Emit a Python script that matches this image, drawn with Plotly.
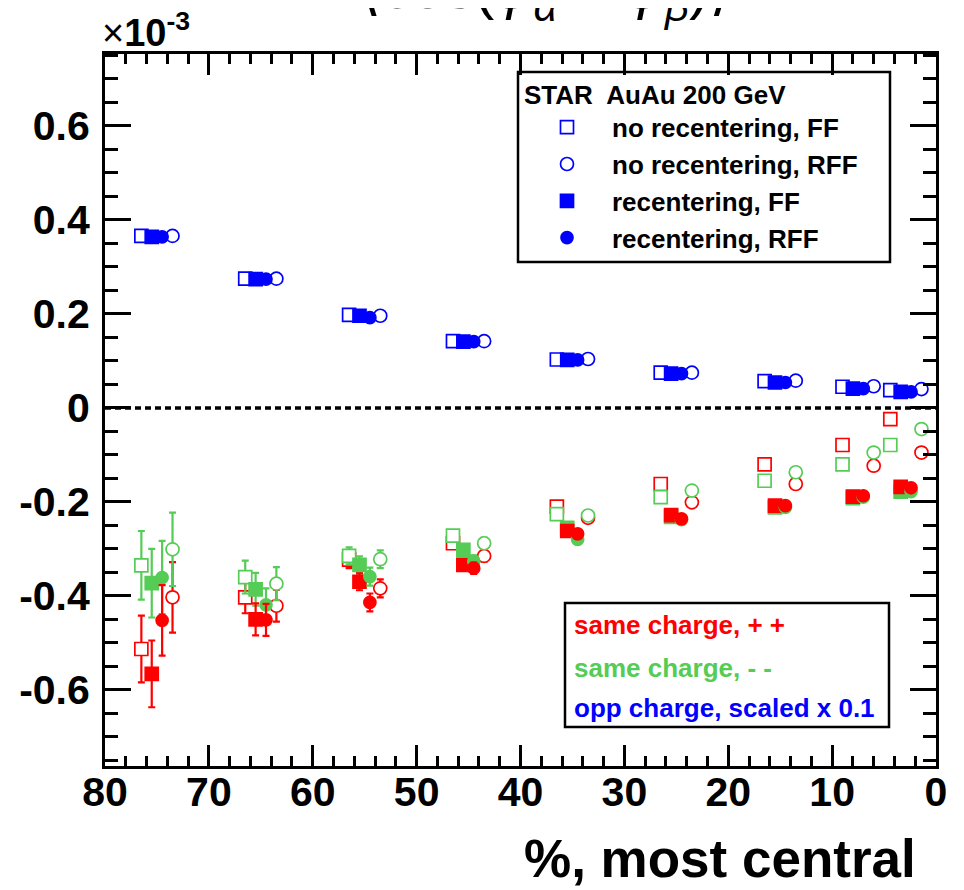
import plotly.graph_objects as go

# ---------------- data ----------------
centrality = [75, 65, 55, 45, 35, 25, 15, 7.5, 2.9]   # % most central (bin centres)

# opposite charge (scaled x 0.1), units of 1e-3
opp_norec_ff  = [0.366, 0.275, 0.198, 0.142, 0.103, 0.075, 0.057, 0.045, 0.038]
opp_rec_ff    = [0.364, 0.274, 0.196, 0.141, 0.102, 0.073, 0.054, 0.041, 0.034]
opp_rec_rff   = [0.364, 0.274, 0.192, 0.141, 0.102, 0.073, 0.054, 0.041, 0.034]
opp_norec_rff = [0.366, 0.275, 0.196, 0.142, 0.104, 0.075, 0.058, 0.046, 0.040]

# same charge ++
pp_norec_ff  = [-0.513, -0.403, -0.323, -0.288, -0.210, -0.162, -0.120, -0.079, -0.024]
pp_rec_ff    = [-0.566, -0.450, -0.370, -0.334, -0.262, -0.228, -0.208, -0.189, -0.168]
pp_rec_rff   = [-0.452, -0.451, -0.414, -0.341, -0.268, -0.236, -0.208, -0.187, -0.170]
pp_norec_rff = [-0.403, -0.421, -0.384, -0.315, -0.234, -0.201, -0.162, -0.123, -0.095]
pp_err_ff    = [0.071, 0.034, 0.018, 0.012, 0.010, 0.009, 0.008, 0.007, 0.007]
pp_err_rff   = [0.075, 0.034, 0.019, 0.012, 0.010, 0.009, 0.008, 0.007, 0.007]

# same charge --
mm_norec_ff  = [-0.335, -0.360, -0.315, -0.272, -0.226, -0.190, -0.155, -0.120, -0.079]
mm_rec_ff    = [-0.373, -0.386, -0.334, -0.302, -0.255, -0.232, -0.212, -0.192, -0.178]
mm_rec_rff   = [-0.361, -0.419, -0.359, -0.326, -0.280, -0.238, -0.212, -0.190, -0.178]
mm_norec_rff = [-0.301, -0.374, -0.322, -0.288, -0.229, -0.176, -0.137, -0.095, -0.045]
mm_err_ff    = [0.073, 0.035, 0.018, 0.012, 0.010, 0.009, 0.008, 0.007, 0.007]
mm_err_rff   = [0.078, 0.035, 0.019, 0.012, 0.010, 0.009, 0.008, 0.007, 0.007]

x_ticks = [80, 70, 60, 50, 40, 30, 20, 10, 0]
y_ticks = [-0.6, -0.4, -0.2, 0, 0.2, 0.4, 0.6]
y_labels = ["-0.6", "-0.4", "-0.2", "0", "0.2", "0.4", "0.6"]

# ---------------- style ----------------
RED = "#ff0000"
GREEN = "#55cc55"
BLUE = "#0000ff"
FONT = "Liberation Sans"

# horizontal dodge for the four methods
dodge = {"norec_ff": 1.5, "rec_ff": 0.5, "rec_rff": -0.5, "norec_rff": -1.5}
symbols = {"norec_ff": "square", "rec_ff": "square",
           "rec_rff": "circle", "norec_rff": "circle"}
hollow = {"norec_ff": True, "rec_ff": False, "rec_rff": False, "norec_rff": True}
sizes = {"norec_ff": 13, "rec_ff": 13, "rec_rff": 12, "norec_rff": 13}
names = {"norec_ff": "no recentering, FF", "norec_rff": "no recentering, RFF",
         "rec_ff": "recentering, FF", "rec_rff": "recentering, RFF"}

fig = go.Figure()


def add(method, yvals, color, err=None, legend=False):
    xs = [c + dodge[method] for c in centrality]
    fill = "white" if hollow[method] else color
    tr = dict(
        x=xs, y=yvals, mode="markers",
        marker=dict(symbol=symbols[method], size=sizes[method], color=fill,
                    line=dict(color=color, width=1.7)),
        name=names[method], showlegend=legend, legendgroup=method,
        hoverinfo="x+y",
    )
    if err is not None:
        tr["error_y"] = dict(type="data", array=err, color=color, thickness=2.2, width=3.5)
    fig.add_trace(go.Scatter(**tr))


# same charge traces (open markers first, filled on top)
add("norec_ff", pp_norec_ff, RED, pp_err_ff)
add("norec_ff", mm_norec_ff, GREEN, mm_err_ff)
add("norec_rff", pp_norec_rff, RED, pp_err_rff)
add("norec_rff", mm_norec_rff, GREEN, mm_err_rff)
add("rec_ff", mm_rec_ff, GREEN, mm_err_ff)
add("rec_ff", pp_rec_ff, RED, pp_err_ff)
add("rec_rff", mm_rec_rff, GREEN, mm_err_rff)
add("rec_rff", pp_rec_rff, RED, pp_err_rff)

# opposite charge traces (legend entries)
add("norec_ff", opp_norec_ff, BLUE, legend=True)
add("norec_rff", opp_norec_rff, BLUE, legend=True)
add("rec_ff", opp_rec_ff, BLUE, legend=True)
add("rec_rff", opp_rec_rff, BLUE, legend=True)

# plot-area geometry in page pixels (page has an 8px body margin)
OFF = 8
L, R, T, B = 105, 936, 54, 766
W, H = 964, 890


def px(xp):
    return (xp - L) / (R - L)


def py(yp):
    return (B - yp) / (B - T)


tickfont = dict(family=FONT, size=41, color="black", weight="bold")

fig.update_layout(
    width=W - OFF, height=H - OFF,
    margin=dict(l=L - OFF, r=W - R, t=T - OFF, b=H - B),
    paper_bgcolor="white", plot_bgcolor="white",
    font=dict(family=FONT, color="black"),
    xaxis=dict(
        range=[80, 0], tickmode="array", tickvals=x_ticks,
        ticks="inside", ticklen=21, tickwidth=3, tickcolor="black",
        minor=dict(dtick=2, ticks="inside", ticklen=10, tickwidth=3, tickcolor="black"),
        showline=True, linewidth=3, linecolor="black", mirror="ticks",
        showgrid=False, zeroline=False, tickfont=tickfont, ticklabelstandoff=-12,
    ),
    yaxis=dict(
        range=[-0.762, 0.753], tickmode="array", tickvals=y_ticks, ticktext=y_labels,
        ticks="inside", ticklen=26, tickwidth=3, tickcolor="black",
        minor=dict(tickmode="linear", tick0=0, dtick=0.05, ticks="inside", ticklen=13,
                   tickwidth=3, tickcolor="black"),
        showline=True, linewidth=3, linecolor="black", mirror="ticks",
        showgrid=False, zeroline=False, tickfont=tickfont, ticklabelstandoff=4,
    ),
    legend=dict(
        x=px(522), y=py(70), xanchor="left", yanchor="top",
        bgcolor="rgba(0,0,0,0)", borderwidth=0,
        font=dict(family=FONT, size=26, color="black", weight="bold"),
        title=dict(text="STAR  AuAu 200 GeV",
                   font=dict(family=FONT, size=26, color="black", weight="bold")),
        itemwidth=80, tracegroupgap=0, traceorder="normal",
    ),
    showlegend=True,
)

# dotted zero line
fig.add_shape(type="line", xref="x", yref="y", x0=80, x1=0, y0=0, y1=0,
              line=dict(color="black", width=3.5, dash="6px,4px"), layer="below")

# legend boxes
fig.add_shape(type="rect", xref="paper", yref="paper",
              x0=px(518), x1=px(890), y0=py(262), y1=py(72),
              line=dict(color="black", width=2.5), fillcolor="white", layer="below")
fig.add_shape(type="rect", xref="paper", yref="paper",
              x0=px(565), x1=px(889), y0=py(727), y1=py(603),
              line=dict(color="black", width=2.5), fillcolor="white", layer="above")

lab_font = dict(family=FONT, size=26, weight="bold")
for txt, col, yc in [("same charge, + +", RED, 625),
                     ("same charge, - -", GREEN, 668),
                     ("opp charge, scaled x 0.1", BLUE, 708)]:
    fig.add_annotation(xref="paper", yref="paper", x=px(572), y=py(yc),
                       xanchor="left", yanchor="middle", showarrow=False,
                       text=txt, font=dict(color=col, **lab_font))

# axis title
fig.add_annotation(xref="paper", yref="paper", x=px(918), y=py(858),
                   xanchor="right", yanchor="middle", showarrow=False,
                   text="%, most central",
                   font=dict(family=FONT, size=53, color="black", weight="bold"))

# exponent label
fig.add_annotation(xref="paper", yref="paper", x=px(100), y=py(56),
                   xanchor="left", yanchor="bottom", showarrow=False,
                   text="×<b>10<sup>-3</sup></b>",
                   font=dict(family=FONT, size=38, color="black"))

# top title (mostly cut off by the page edge)
fig.add_annotation(xref="paper", yref="paper", x=px(545), y=py(32),
                   xanchor="center", yanchor="bottom", showarrow=False,
                   text="⟨cos(<i>φ</i><sub><i>α</i></sub> − <i>φ</i><sub><i>β</i></sub>)⟩",
                   font=dict(family=FONT, size=60, color="black"))

fig.write_html("out.html")
